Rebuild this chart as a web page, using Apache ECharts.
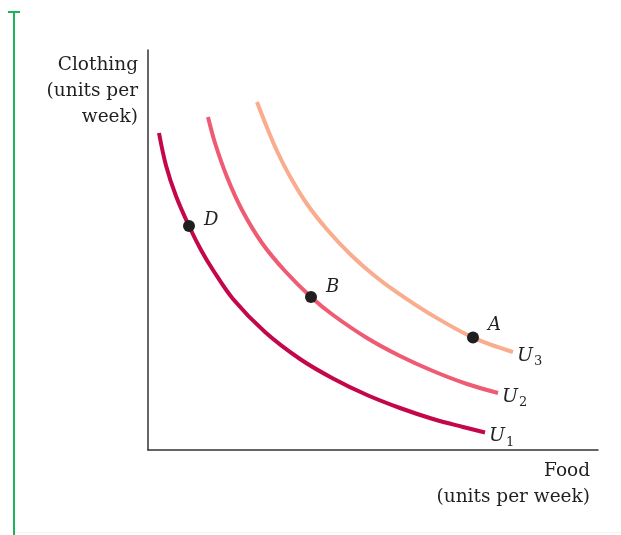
<!DOCTYPE html>
<html>
<head>
<meta charset="utf-8">
<script src="https://cdn.jsdelivr.net/npm/echarts@6/dist/echarts.min.js"></script>
<style>
html,body{margin:0;padding:0;background:#fff;}
#chart{width:621px;height:535px;}
</style>
</head>
<body>
<div id="chart"></div>
<script>
// Indifference curves: [food, clothing] in chart units
const curveU1 = [[2.44,79.25],[4,71.13],[6.22,63.5],[9.11,56],[11.78,50],[14.44,45],[18.89,37.75],[26,29.5],[33.78,22.75],[41.11,17.88],[48.67,13.75],[56,10.5],[63.33,7.75],[70,5.75],[74.89,4.38]];
const curveU2 = [[13.33,83.25],[14.89,76.75],[17.56,68.25],[20.89,60],[25.33,51.75],[30.44,44.75],[36.22,38.25],[41.11,33.75],[48.67,28],[56,23.5],[63.33,19.75],[70.89,16.5],[77.78,14.25]];
const curveU3 = [[24.22,87],[26.44,80.63],[28.67,74.75],[31.56,68.38],[35.33,61.5],[39.78,55.13],[44.89,49],[50,43.88],[55.33,39.38],[62.67,34],[72.22,28.1],[81.11,24.5]];
const curveSubs = ['1','2','3'];
const pointNames = ['D','B','A'];
const pointValues = [[9.11,56],[36.22,38.25],[72.22,28.1]];
const yTitle = ['Clothing','(units per','week)'];
const xTitle = ['Food','(units per week)'];

const colors = ['#c4064b','#ef5b73','#f9ac8e'];
const serif = 'DejaVu Serif';

const chart = echarts.init(document.getElementById('chart'));
const curves = [curveU1, curveU2, curveU3];

const lineSeries = curves.map((c, i) => ({
  type: 'line',
  name: 'U' + curveSubs[i],
  data: c,
  smooth: 0.33,
  showSymbol: false,
  symbol: 'none',
  lineStyle: { color: colors[i], width: 4, cap: 'butt' },
  z: 2,
  silent: true,
  endLabel: {
    show: true,
    distance: 4,
    formatter: '{u|U}{s|' + curveSubs[i] + '}',
    rich: {
      u: { fontFamily: serif, fontStyle: 'italic', fontSize: 19, color: '#231f20' },
      s: { fontFamily: serif, fontSize: 13, color: '#231f20', padding: [12, 0, 0, 1] }
    },
    offset: [0, 4]
  }
}));

const labelOffsets = [[4, -6], [4, -10], [4, -12]];
const scatterSeries = {
  type: 'scatter',
  data: pointValues.map((v, i) => ({
    value: v,
    name: pointNames[i],
    label: { offset: labelOffsets[i] }
  })),
  symbolSize: 12,
  itemStyle: { color: '#1f1f1f', opacity: 1 },
  z: 5,
  silent: true,
  label: {
    show: true,
    position: 'right',
    formatter: p => p.name,
    fontFamily: serif,
    fontStyle: 'italic',
    fontSize: 18,
    color: '#231f20'
  }
};

chart.setOption({
  animation: false,
  backgroundColor: '#fff',
  grid: { left: 148, top: 50, right: 23, bottom: 85 },
  xAxis: {
    type: 'value', min: 0, max: 100,
    axisLine: { show: true, lineStyle: { color: '#333', width: 1.5 } },
    axisTick: { show: false }, axisLabel: { show: false }, splitLine: { show: false }
  },
  yAxis: {
    type: 'value', min: 0, max: 100,
    axisLine: { show: true, lineStyle: { color: '#333', width: 1.5 } },
    axisTick: { show: false }, axisLabel: { show: false }, splitLine: { show: false }
  },
  graphic: [
    { type: 'line', shape: { x1: 14, y1: 12, x2: 14, y2: 535 }, style: { stroke: '#1db35b', lineWidth: 2 } },
    { type: 'line', shape: { x1: 8, y1: 12, x2: 20, y2: 12 }, style: { stroke: '#1db35b', lineWidth: 2 } },
    { type: 'line', shape: { x1: 15, y1: 532.5, x2: 621, y2: 532.5 }, style: { stroke: '#eaf7f0', lineWidth: 1 } },
    { type: 'text', x: 138, y: 52, style: {
        text: yTitle.join('\n'), font: '18.5px "' + serif + '"', fill: '#231f20',
        textAlign: 'right', textVerticalAlign: 'top', lineHeight: 26 } },
    { type: 'text', x: 590, y: 458, style: {
        text: xTitle.join('\n'), font: '18.5px "' + serif + '"', fill: '#231f20',
        textAlign: 'right', textVerticalAlign: 'top', lineHeight: 26 } }
  ],
  series: lineSeries.concat([scatterSeries])
});
</script>
</body>
</html>
